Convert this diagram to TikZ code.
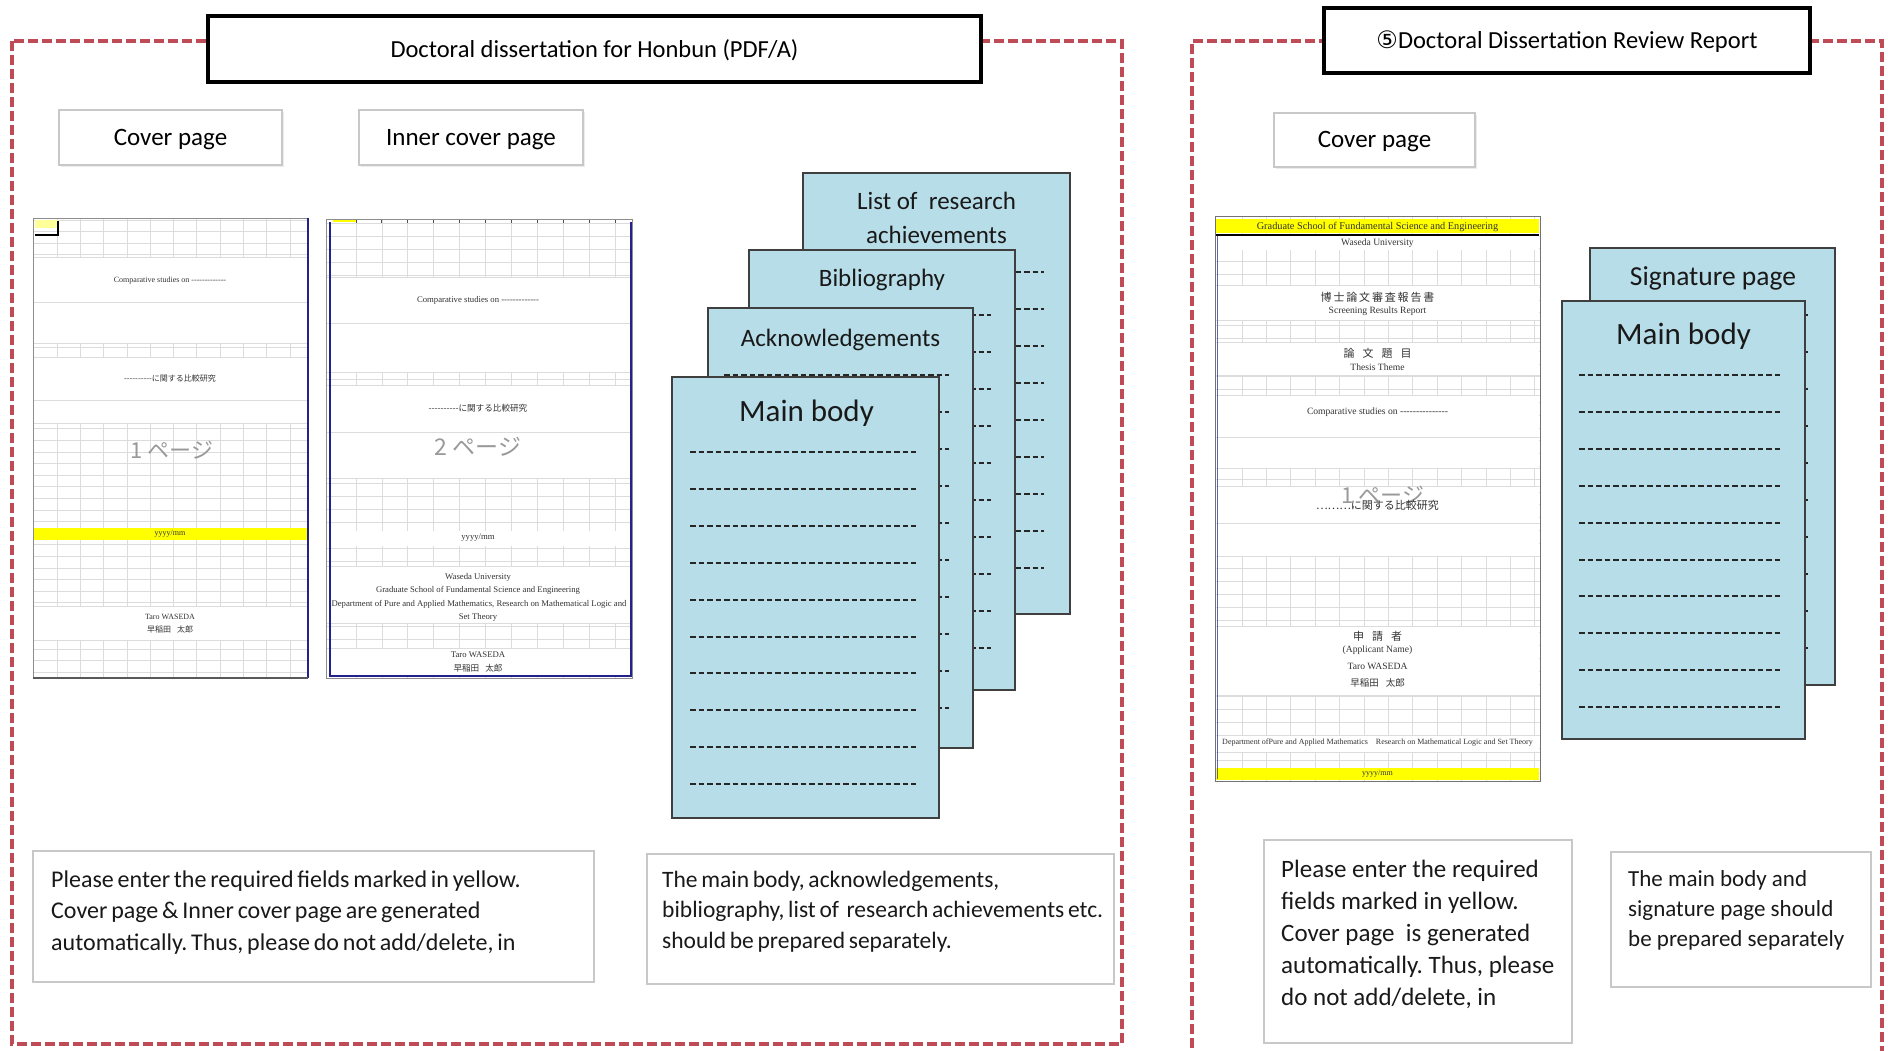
\documentclass[tikz,border=0pt]{standalone}
\usepackage{fontspec}
\setmainfont{Carlito}
\newfontfamily\notefont{Carlito}[WordSpace=0.7]
\newfontfamily\serifthumb{Liberation Serif}
\newfontfamily\jpfont{Noto Sans CJK JP}
\newfontfamily\circfont{DejaVu Sans}
\usetikzlibrary{shadows}
\frenchspacing
\definecolor{framered}{HTML}{BE4B55}
\definecolor{pageblue}{HTML}{B7DDE8}
\definecolor{pageedge}{HTML}{3F3F3F}
\definecolor{boxgray}{HTML}{C8C8C8}
\definecolor{gridgray}{HTML}{DCDCDC}
\definecolor{navy}{HTML}{22228A}
\definecolor{hl}{HTML}{FFFF00}
\newcommand\fsz[2]{\fontsize{#1}{#2}\selectfont}
\tikzset{
  frame/.style={draw=framered, line width=3.4pt, dash pattern=on 10pt off 4pt},
  hdr/.style={draw=black, line width=3.5pt, fill=white, inner sep=0pt,
    text height=18pt, text depth=2pt,
    drop shadow={shadow xshift=2pt, shadow yshift=-2pt, opacity=0.35}},
  lbl/.style={draw=boxgray, line width=1.2pt, fill=white, inner sep=0pt,
    text height=17pt, text depth=2pt,
    drop shadow={shadow xshift=1.5pt, shadow yshift=-1.5pt, opacity=0.15}},
  page/.style={draw=pageedge, line width=1.6pt, fill=pageblue, inner sep=0pt},
  dl/.style={draw=black!85, line width=2pt, dash pattern=on 5.5pt off 3pt},
  note/.style={draw=boxgray, line width=1.2pt, fill=white, inner sep=0pt},
  gridl/.style={draw=gridgray, line width=0.8pt},
  tt/.style={font=\serifthumb\fsz{8}{9.6}, text=black!80, inner sep=0pt},
  ttb/.style={font=\serifthumb\fsz{8.7}{10}, text=black!80, inner sep=0pt},
  ttc/.style={font=\serifthumb\fsz{9.6}{11}, text=black!80, inner sep=0pt},
  tj/.style={font=\jpfont\fsz{8}{9.6}, text=black!80, inner sep=0pt},
  tjc/.style={font=\jpfont\fsz{11}{13}, text=black!80, inner sep=0pt},
  tp/.style={font=\jpfont\fsz{22}{26}, text=black!40, inner sep=0pt},
  hd/.style={font=\fsz{25}{34}, text=black!90, inner sep=0pt, align=center},
  body/.style={inner sep=0pt, anchor=north west, align=left, text=black!90}
}
\begin{document}
\begin{tikzpicture}[x=1pt, y=-1pt]
\useasboundingbox (0,0) rectangle (1888,1050);
\fill[white] (0,0) rectangle (1888,1050);

% ---------- frames ----------
\draw[frame] (12,41) rectangle (1122,1044);
\draw[frame] (1192,1062) -- (1192,41) -- (1882,41) -- (1882,1062);

% ---------- headers ----------
\node[hdr, minimum width=773, minimum height=66] (hdrL) at (594.5,49)
  {\fsz{24.5}{29}Doctoral dissertation for Honbun (PDF/A)};
\node[hdr, minimum width=486, minimum height=65] (hdrR) at (1567,40.5)
  {{\circfont\fsz{24}{26}⑤}\fsz{24.5}{29}Doctoral Dissertation Review Report};

% ---------- labels ----------
\node[lbl, minimum width=223, minimum height=55] (cpL) at (170.5,137.5) {\fsz{25}{30}Cover page};
\node[lbl, minimum width=224, minimum height=55] (icpL) at (471,137.5) {\fsz{25}{30}Inner cover page};
\node[lbl, minimum width=201, minimum height=54] (cpR) at (1374.5,140) {\fsz{25}{30}Cover page};

% ---------- thumbnail 1 ----------
\begin{scope}
  \clip (33,218) rectangle (308,678);
  \fill[white] (33,218) rectangle (308,678);
  \foreach \k in {0,...,11} \draw[gridl] ({57+23.3*\k},218) -- ({57+23.3*\k},678);
  \foreach \k in {0,...,40} \draw[gridl] (33,{220+11.6*\k}) -- (308,{220+11.6*\k});
  \fill[white] (34,257) rectangle (307,343);
  \fill[white] (34,357) rectangle (307,423);
  \fill[white] (34,606) rectangle (307,640);
  \draw[gridl] (33,257) -- (308,257) (33,302) -- (308,302) (33,343) -- (308,343)
               (33,357) -- (308,357) (33,400) -- (308,400) (33,423) -- (308,423)
               (33,606) -- (308,606) (33,640) -- (308,640);
  \fill[hl] (34,528) rectangle (307,540);
  \fill[hl!40] (35,220) rectangle (58,228);
  \draw[black, line width=1.5pt] (35,235) -- (58,235) -- (58,221);
\end{scope}
\node[tt] (t1a) at (170,281) {Comparative studies on -------------};
\node[tj] (t1b) at (170,378) {----------に関する比較研究};
\node[tp] (t1c) at (172,450) {1 ページ};
\node[tt] (t1d) at (170,534) {yyyy/mm};
\node[tt] (t1e) at (170,617) {Taro WASEDA};
\node[tj] (t1f) at (170,629) {早稲田\hspace{6pt}太郎};
\draw[black!45, line width=1pt] (33,678) -- (33,218) -- (308,218);
\draw[navy, line width=2.5pt] (308,218) -- (308,678);
\draw[black!65, line width=2pt] (33,678) -- (308,678);

% ---------- thumbnail 2 ----------
\begin{scope}
  \clip (326,219) rectangle (632,678);
  \fill[white] (326,219) rectangle (632,678);
  \foreach \k in {0,...,10} \draw[gridl] ({356+25.9*\k},219) -- ({356+25.9*\k},678);
  \foreach \k in {0,...,36} \draw[gridl] (326,{223+13*\k}) -- (632,{223+13*\k});
  \fill[white] (327,277) rectangle (631,372);
  \fill[white] (327,385) rectangle (631,478);
  \fill[white] (327,531) rectangle (631,546);
  \fill[white] (327,566) rectangle (631,623);
  \fill[white] (327,648) rectangle (631,677);
  \draw[gridl] (326,277) -- (632,277) (326,323) -- (632,323) (326,372) -- (632,372)
               (326,385) -- (632,385) (326,432) -- (632,432) (326,478) -- (632,478)
               (326,566) -- (632,566) (326,623) -- (632,623) (326,648) -- (632,648);
  \fill[hl] (333,219) rectangle (357,222);
  \foreach \k in {0,...,10} \draw[black!70, line width=1pt] ({356+25.9*\k},219) -- ({356+25.9*\k},223);
\end{scope}
\node[ttb] (t2a) at (478,300) {Comparative studies on -------------};
\node[tj, font=\jpfont\fsz{8.6}{10}] (t2b) at (478,408) {----------に関する比較研究};
\node[tp, font=\jpfont\fsz{23}{27}] (t2c) at (478,447) {2 ページ};
\node[ttb] (t2d) at (478,538) {yyyy/mm};
\node[ttb] (t2e) at (478,577) {Waseda University};
\node[ttb] (t2f) at (478,590) {Graduate School of Fundamental Science and Engineering};
\node[ttb] (t2g) at (479,604) {Department of Pure and Applied Mathematics, Research on Mathematical Logic and};
\node[ttb] (t2h) at (478,617) {Set Theory};
\node[ttb] (t2i) at (478,655) {Taro WASEDA};
\node[tj, font=\jpfont\fsz{8.6}{10}] (t2j) at (478,668) {早稲田\hspace{6pt}太郎};
\draw[black!45, line width=1pt] (326,219) rectangle (632,678);
\draw[navy, line width=2.5pt] (330,222) -- (330,676) -- (631,676) -- (631,222);

% ---------- thumbnail 3 ----------
\begin{scope}
  \clip (1215,216) rectangle (1540,781);
  \fill[white] (1215,216) rectangle (1540,781);
  \foreach \k in {0,...,12} \draw[gridl] ({1242+24.4*\k},216) -- ({1242+24.4*\k},781);
  \foreach \k in {0,...,44} \draw[gridl] (1215,{236+12.8*\k}) -- (1540,{236+12.8*\k});
  \fill[white] (1216,236) rectangle (1539,250);
  \fill[white] (1216,285) rectangle (1539,320);
  \fill[white] (1216,342) rectangle (1539,375);
  \fill[white] (1216,395) rectangle (1539,468);
  \fill[white] (1216,486) rectangle (1539,556);
  \fill[white] (1216,626) rectangle (1539,695);
  \fill[white] (1216,735) rectangle (1539,752);
  \draw[gridl] (1215,285) -- (1540,285) (1215,320) -- (1540,320) (1215,342) -- (1540,342)
               (1215,375) -- (1540,375) (1215,395) -- (1540,395) (1215,437) -- (1540,437)
               (1215,468) -- (1540,468) (1215,486) -- (1540,486) (1215,523) -- (1540,523)
               (1215,556) -- (1540,556) (1215,626) -- (1540,626) (1215,695) -- (1540,695)
               (1215,735) -- (1540,735) (1215,752) -- (1540,752);
  \fill[hl] (1216,219) rectangle (1539,233);
  \draw[black, line width=2.2pt] (1216,235) -- (1539,235);
  \fill[hl] (1216,768) rectangle (1539,780);
\end{scope}
\node[ttc, font=\serifthumb\fsz{10.3}{12}] (t3a) at (1377.5,226.5) {Graduate School of Fundamental Science and Engineering};
\node[ttc] (t3b) at (1377.5,243) {Waseda University};
\node[tjc] (t3c) at (1377.5,297) {博\,士\,論\,文\,審\,査\,報\,告\,書};
\node[ttc] (t3d) at (1377.5,311) {Screening Results Report};
\node[tjc] (t3e) at (1377.5,353) {論\hspace{8pt}文\hspace{8pt}題\hspace{8pt}目};
\node[ttc] (t3f) at (1377.5,367) {Thesis Theme};
\node[ttc] (t3g) at (1377.5,412) {Comparative studies on ---------------};
\node[tp] (t3h) at (1383,495) {1 ページ};
\node[tjc] (t3i) at (1377.5,505) {………に関する比較研究};
\node[tjc] (t3j) at (1377.5,636) {申\hspace{8pt}請\hspace{8pt}者};
\node[ttc] (t3k) at (1377.5,650) {(Applicant Name)};
\node[ttc] (t3l) at (1377.5,666) {Taro WASEDA};
\node[tj, font=\jpfont\fsz{9.5}{11}] (t3m) at (1377.5,683) {早稲田\hspace{7pt}太郎};
\node[tt] (t3n) at (1377.5,743) {Department ofPure and Applied Mathematics\hspace{8pt}Research on Mathematical Logic and Set Theory};
\node[tt] (t3o) at (1377.5,774) {yyyy/mm};
\draw[black!55, line width=1pt] (1215,216) rectangle (1540,781);
\draw[navy!70, line width=1pt] (1217.5,236) -- (1217.5,779);

% ---------- stacked pages (left) ----------
\node[page, minimum width=267, minimum height=441] (listP) at (936.5,393.5) {};
\foreach \k in {0,...,8} \draw[dl] (820,{272+37*\k}) -- (1044,{272+37*\k});
\node[hd] (listH) at (936.5,218) {List of\ \ research\\achievements};

\node[page, minimum width=266, minimum height=440] (bibP) at (882,470) {};
\foreach \k in {0,...,9} \draw[dl] (766,{315+37*\k}) -- (991,{315+37*\k});
\node[hd] (bibH) at (882,280) {Bibliography};

\node[page, minimum width=265, minimum height=440] (ackP) at (840.5,528) {};
\foreach \k in {0,...,9} \draw[dl] (724,{375+37*\k}) -- (949,{375+37*\k});
\node[hd] (ackH) at (840.5,340) {Acknowledgements};

\node[page, minimum width=267, minimum height=441] (mainP) at (805.5,597.5) {};
\foreach \k in {0,...,9} \draw[dl] (690,{452+36.9*\k}) -- (916,{452+36.9*\k});
\node[hd, font=\fsz{31}{36}] (mainH) at (806.5,413) {Main body};

% ---------- stacked pages (right) ----------
\node[page, minimum width=245, minimum height=437] (sigP) at (1712.5,466.5) {};
\foreach \k in {0,...,9} \draw[dl] (1607,{315+37*\k}) -- (1810,{315+37*\k});
\node[hd, font=\fsz{27.5}{33}] (sigH) at (1713,278) {Signature page};

\node[page, minimum width=243, minimum height=438] (main2P) at (1683.5,520) {};
\foreach \k in {0,...,9} \draw[dl] (1579,{375+36.9*\k}) -- (1780,{375+36.9*\k});
\node[hd, font=\fsz{31}{36}] (main2H) at (1683.5,336) {Main body};

% ---------- notes ----------
\node[note, minimum width=561, minimum height=131] (n1) at (313.5,916.5) {};
\node[body, font=\notefont\fsz{24}{31.5}] (n1t) at (51,870.5)
  {Please enter the required fields marked in yellow.\\Cover page \& Inner cover page are generated\\automatically. Thus, please do not add/delete, in};
\node[note, minimum width=467, minimum height=130] (n2) at (880.5,919) {};
\node[body, font=\notefont\fsz{23.5}{30.5}] (n2t) at (662,870.5)
  {The main body, acknowledgements,\\bibliography, list of\ \ research achievements etc.\\should be prepared separately.};
\node[note, minimum width=308, minimum height=203] (n3) at (1418,941.5) {};
\node[body, font=\fsz{25}{32}] (n3t) at (1281,859.5)
  {Please enter the required\\fields marked in yellow.\\Cover page\ \ is generated\\automatically. Thus, please\\do not add/delete, in};
\node[note, minimum width=260, minimum height=135] (n4) at (1741,919.5) {};
\node[body, font=\fsz{23}{30}] (n4t) at (1628,870.5)
  {The main body and\\signature page should\\be prepared separately};
\end{tikzpicture}
\end{document}
